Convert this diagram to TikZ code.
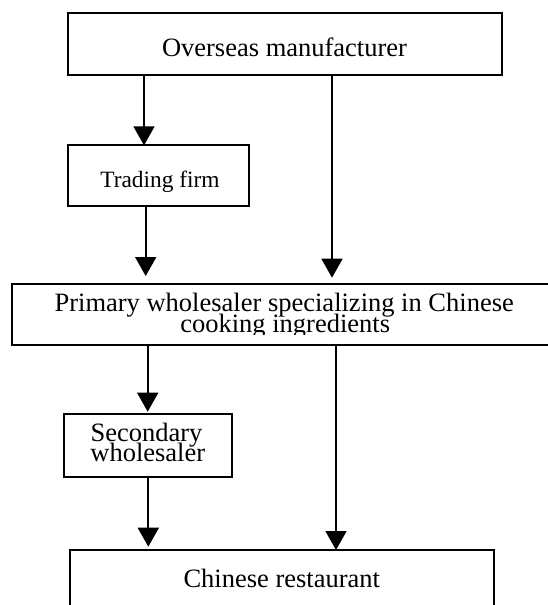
\documentclass[tikz,border=0pt]{standalone}
\usepackage{fontspec}
\setmainfont{Liberation Serif}
\usetikzlibrary{arrows.meta}
\begin{document}
\begin{tikzpicture}[x=1pt,y=-1pt,
  box/.style={draw, line width=1.8pt, inner sep=0pt, outer sep=0pt},
  txt/.style={inner sep=0pt, anchor=base, font=\fontsize{26.5}{30}\selectfont},
  smalltxt/.style={inner sep=0pt, anchor=base, font=\fontsize{23.4}{28}\selectfont},
  arr/.style={line width=1.8pt, -{Triangle[length=19pt,width=21pt]}}]
\useasboundingbox (0,0) rectangle (547,605);
% boxes
\node[box, minimum width=434.6pt, minimum height=62pt] (om) at (285,44.3) {};
\node[box, minimum width=180.7pt, minimum height=60.4pt] (tf) at (158.65,175.5) {};
\node[box, minimum width=545.6pt, minimum height=61pt] (pw) at (284.5,314.5) {};
\node[box, minimum width=168pt, minimum height=63.3pt] (sw) at (148.3,445.35) {};
\node[box, minimum width=424pt, minimum height=100pt] (cr) at (281.7,600) {};
% texts
\node[txt] (omt) at (284.5,56.7) {Overseas manufacturer};
\node[smalltxt] (tft) at (160,187.7) {Trading firm};
\node[txt] (pw1) at (284.2,311.7) {Primary wholesaler specializing in Chinese};
\begin{scope}
  \clip (0,286) rectangle (547,334);
  \node[txt] (pw2) at (285.2,332) {cooking ingredients};
\end{scope}
\node[txt] (sw1) at (146.5,441.7) {Secondary};
\node[txt] (sw2) at (147.8,461.7) {wholesaler};
\node[txt] (crt) at (281.8,587.3) {Chinese restaurant};
% arrow columns
\coordinate (x1) at (144,0);
\coordinate (x2) at (145.7,0);
\coordinate (x3) at (332,0);
\coordinate (x4) at (147.7,0);
\coordinate (x5) at (148.3,0);
\coordinate (x6) at (336,0);
% connectors
\draw[arr] (om.south -| x1) -- (tf.north -| x1);
\draw[arr, shorten >=8pt] (tf.south -| x2) -- (pw.north -| x2);
\draw[arr, shorten >=6.3pt] (om.south -| x3) -- (pw.north -| x3);
\draw[arr, shorten >=2pt] (pw.south -| x4) -- (sw.north -| x4);
\draw[arr, shorten >=3.3pt] (sw.south -| x5) -- (cr.north -| x5);
\draw[arr] (pw.south -| x6) -- (cr.north -| x6);
\end{tikzpicture}
\end{document}
